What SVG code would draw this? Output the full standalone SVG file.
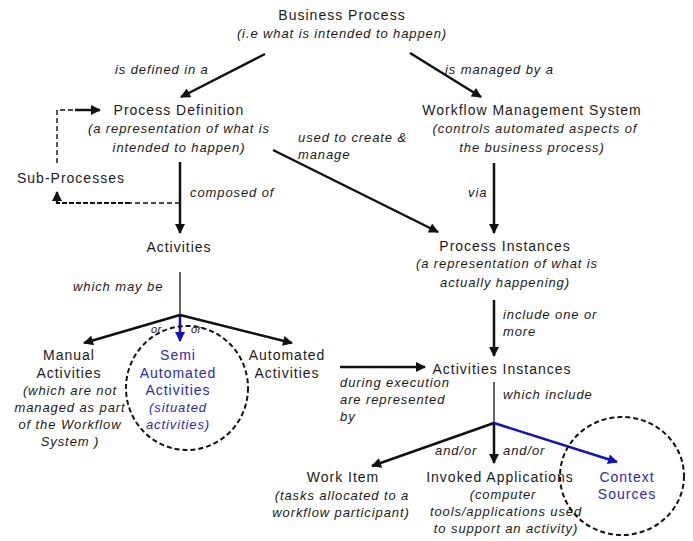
<svg xmlns="http://www.w3.org/2000/svg" width="693" height="541" viewBox="0 0 693 541">
<style>
text{font-family:"Liberation Sans",Arial,sans-serif;fill:#1a1a1a}
.n{font-size:14px;letter-spacing:1px;text-anchor:middle}
.i{font-size:13px;font-style:italic;letter-spacing:0.9px;text-anchor:middle}
.il{font-size:13px;font-style:italic;letter-spacing:0.9px}
.small{font-size:11px;font-style:italic;letter-spacing:0.5px}
.b{fill:#2828c8}
.e{stroke:#111;stroke-width:2.5;fill:none}
.t{stroke:#111;stroke-width:1.3;fill:none}
.bl{stroke:#1010c8;stroke-width:2.5;fill:none}
.d{stroke:#111;stroke-width:1.4;fill:none;stroke-dasharray:5,3}
.dt{stroke:#111;stroke-width:2.2;fill:none;stroke-dasharray:5,2}
.c{stroke:#111;stroke-width:2;fill:none;stroke-dasharray:5,3}
</style>
<defs>
<marker id="ah" viewBox="0 0 10 10" refX="9" refY="5" markerWidth="4.4" markerHeight="4" orient="auto" markerUnits="strokeWidth"><path d="M0,0 L10,5 L0,10 z" fill="#111"/></marker>
<marker id="ahb" viewBox="0 0 10 10" refX="9" refY="5" markerWidth="4.4" markerHeight="4" orient="auto" markerUnits="strokeWidth"><path d="M0,0 L10,5 L0,10 z" fill="#1010c8"/></marker>
</defs>
<rect width="693" height="541" fill="#fff"/>

<g id="connectors">
<line class="e" x1="265" y1="54" x2="181" y2="97" marker-end="url(#ah)"/>
<line class="e" x1="410" y1="53" x2="481" y2="97" marker-end="url(#ah)"/>
<line class="e" x1="180" y1="162" x2="180" y2="233" marker-end="url(#ah)"/>
<polyline class="d" points="180,203 130,203"/>
<polyline class="dt" points="130,203 57,203 57,197"/>
<line class="e" x1="57" y1="199" x2="57" y2="192" stroke-width="2.2" marker-end="url(#ah)"/>
<polyline class="d" points="57,163 57,110 75,110"/>
<line class="e" x1="75" y1="110" x2="100" y2="110" stroke-width="2.2" marker-end="url(#ah)"/>
<line class="e" x1="273" y1="150" x2="438" y2="232" stroke-width="2" marker-end="url(#ah)"/>
<line class="e" x1="494" y1="163" x2="494" y2="233" marker-end="url(#ah)"/>
<line class="t" x1="180" y1="272" x2="180" y2="315"/>
<line class="bl" x1="180" y1="315" x2="180" y2="341" marker-end="url(#ahb)"/>
<line class="e" x1="180" y1="315" x2="84" y2="343" marker-end="url(#ah)"/>
<line class="e" x1="180" y1="315" x2="292" y2="343" marker-end="url(#ah)"/>
<line class="e" x1="340" y1="367" x2="425" y2="367" marker-end="url(#ah)"/>
<line class="e" x1="494" y1="300" x2="494" y2="356" marker-end="url(#ah)"/>
<line class="t" x1="494" y1="382" x2="494" y2="423"/>
<line class="e" x1="494" y1="423" x2="372" y2="466" marker-end="url(#ah)"/>
<line class="e" x1="494" y1="423" x2="494" y2="463" marker-end="url(#ah)"/>
<line class="bl" x1="494" y1="423" x2="617" y2="462" marker-end="url(#ahb)"/>
<text class="il" x="115" y="74">is defined in a</text>
<text class="il" x="445" y="74">is managed by a</text>
<text class="il" x="190" y="197">composed of</text>
<text class="il" x="468" y="197">via</text>
<text class="il" x="298" y="142">used to create &amp;</text>
<text class="il" x="298" y="159">manage</text>
<text class="il" x="73" y="291">which may be</text>
<text class="il" x="503" y="319">include one or</text>
<text class="il" x="503" y="336">more</text>
<text class="small" x="151" y="333">or</text>
<text class="small" x="191" y="333">or</text>
<text class="il" x="340" y="387">during execution</text>
<text class="il" x="340" y="404">are represented</text>
<text class="il" x="340" y="421">by</text>
<text class="il" x="503" y="399">which include</text>
<text class="il" x="435" y="455">and/or</text>
<text class="il" x="503" y="455">and/or</text>
</g>

<g id="business-process">
<text class="n" x="342" y="20">Business Process</text>
<text class="i" x="342" y="38">(i.e what is intended to happen)</text>
</g>
<g id="process-definition">
<text class="n" x="179" y="115">Process Definition</text>
<text class="i" x="179" y="133">(a representation of what is</text>
<text class="i" x="179" y="152">intended to happen)</text>
</g>
<g id="workflow-management-system">
<text class="n" x="532" y="115">Workflow Management System</text>
<text class="i" x="535" y="133">(controls automated aspects of</text>
<text class="i" x="532" y="152">the business process)</text>
</g>
<g id="sub-processes">
<text class="n" x="17" y="183" style="text-anchor:start">Sub-Processes</text>
</g>
<g id="activities">
<text class="n" x="179" y="252">Activities</text>
</g>
<g id="process-instances">
<text class="n" x="505" y="251">Process Instances</text>
<text class="i" x="507" y="268">(a representation of what is</text>
<text class="i" x="505" y="287">actually happening)</text>
</g>
<g id="manual-activities">
<text class="n" x="69" y="360">Manual</text>
<text class="n" x="69" y="378">Activities</text>
<text class="i" x="70" y="395">(which are not</text>
<text class="i" x="70" y="412">managed as part</text>
<text class="i" x="70" y="429">of the Workflow</text>
<text class="i" x="70" y="446">System )</text>
</g>
<g id="semi-automated-activities">
<ellipse class="c" cx="187" cy="388" rx="61" ry="62"/>
<text class="n b" x="178" y="360">Semi</text>
<text class="n b" x="178" y="378">Automated</text>
<text class="n b" x="178" y="395">Activities</text>
<text class="i b" x="178" y="412">(situated</text>
<text class="i b" x="178" y="429">activities)</text>
</g>
<g id="automated-activities">
<text class="n" x="287" y="360">Automated</text>
<text class="n" x="287" y="378">Activities</text>
</g>
<g id="activities-instances">
<text class="n" x="502" y="374">Activities Instances</text>
</g>
<g id="work-item">
<text class="n" x="343" y="482">Work Item</text>
<text class="i" x="342" y="500">(tasks allocated to a</text>
<text class="i" x="341" y="517">workflow participant)</text>
</g>
<g id="invoked-applications">
<text class="n" x="500" y="482">Invoked Applications</text>
<text class="i" x="503" y="499">(computer</text>
<text class="i" x="506" y="516">tools/applications used</text>
<text class="i" x="506" y="533">to support an activity)</text>
</g>
<g id="context-sources">
<ellipse class="c" cx="622" cy="476" rx="62" ry="59"/>
<text class="n b" x="627" y="482">Context</text>
<text class="n b" x="627" y="499">Sources</text>
</g>
</svg>
